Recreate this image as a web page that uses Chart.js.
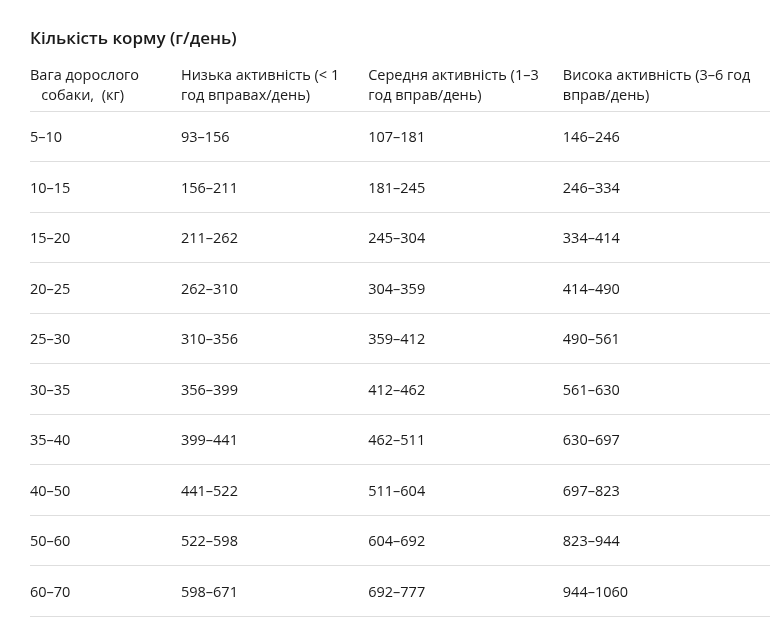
<!DOCTYPE html>
<html><head><meta charset="utf-8">
<script src="https://cdn.jsdelivr.net/npm/chart.js@4/dist/chart.umd.min.js"></script>
<style>html,body{margin:0;padding:0;background:#fff}#w{width:772px;height:634px}</style>
</head><body><div id="w"><canvas id="c"></canvas></div>
<script>
const title = "Кількість корму (г/день)";
const headers = [
  ["Вага дорослого", "   собаки,  (кг)"],
  ["Низька активність (< 1", "год вправах/день)"],
  ["Середня активність (1–3", "год вправ/день)"],
  ["Висока активність (3–6 год", "вправ/день)"]
];
const weights = ["5–10","10–15","15–20","20–25","25–30","30–35","35–40","40–50","50–60","60–70"];
const lowAct = ["93–156","156–211","211–262","262–310","310–356","356–399","399–441","441–522","522–598","598–671"];
const midAct = ["107–181","181–245","245–304","304–359","359–412","412–462","462–511","511–604","604–692","692–777"];
const highAct = ["146–246","246–334","334–414","414–490","490–561","561–630","630–697","697–823","823–944","944–1060"];
const colStart = [0, 0.204, 0.457, 0.72];

const FONT = '"Open Sans","Noto Sans",sans-serif';
const tablePlugin = {
  id: 'table',
  afterDraw(chart) {
    const ctx = chart.ctx, x = chart.scales.x, y = chart.scales.y;
    ctx.save();
    ctx.fillStyle = '#1a1a1a';
    ctx.textBaseline = 'middle';
    ctx.textAlign = 'left';
    ctx.font = '600 17px ' + FONT;
    ctx.fillText(title, x.getPixelForValue(0), 39);
    ctx.font = '14.5px ' + FONT;
    headers.forEach((h, i) => {
      h.forEach((line, j) => ctx.fillText(line, x.getPixelForValue(colStart[i]), 76 + j * 20));
    });
    const cols = [weights, lowAct, midAct, highAct];
    cols.forEach((col, i) => col.forEach((v, r) => {
      ctx.fillText(v, x.getPixelForValue(colStart[i]), y.getPixelForValue(r) + 2);
    }));
    ctx.restore();
  }
};

new Chart(document.getElementById('c'), {
  type: 'scatter',
  data: { labels: weights, datasets: [{ data: [], pointRadius: 0 }] },
  options: {
    responsive: true, maintainAspectRatio: false, animation: false,
    layout: { padding: { left: 30, right: 2, top: 111, bottom: 18 } },
    plugins: { legend: { display: false }, tooltip: { enabled: false } },
    scales: {
      x: { type: 'linear', min: 0, max: 1, display: false },
      y: { type: 'category', labels: weights, offset: true,
           ticks: { display: false },
           border: { display: false },
           grid: { offset: true, drawTicks: false, lineWidth: 1,
                   color: c => c.index >= weights.length ? 'rgba(0,0,0,0)' : '#dedede' } }
    }
  },
  plugins: [tablePlugin]
});
</script></body></html>
